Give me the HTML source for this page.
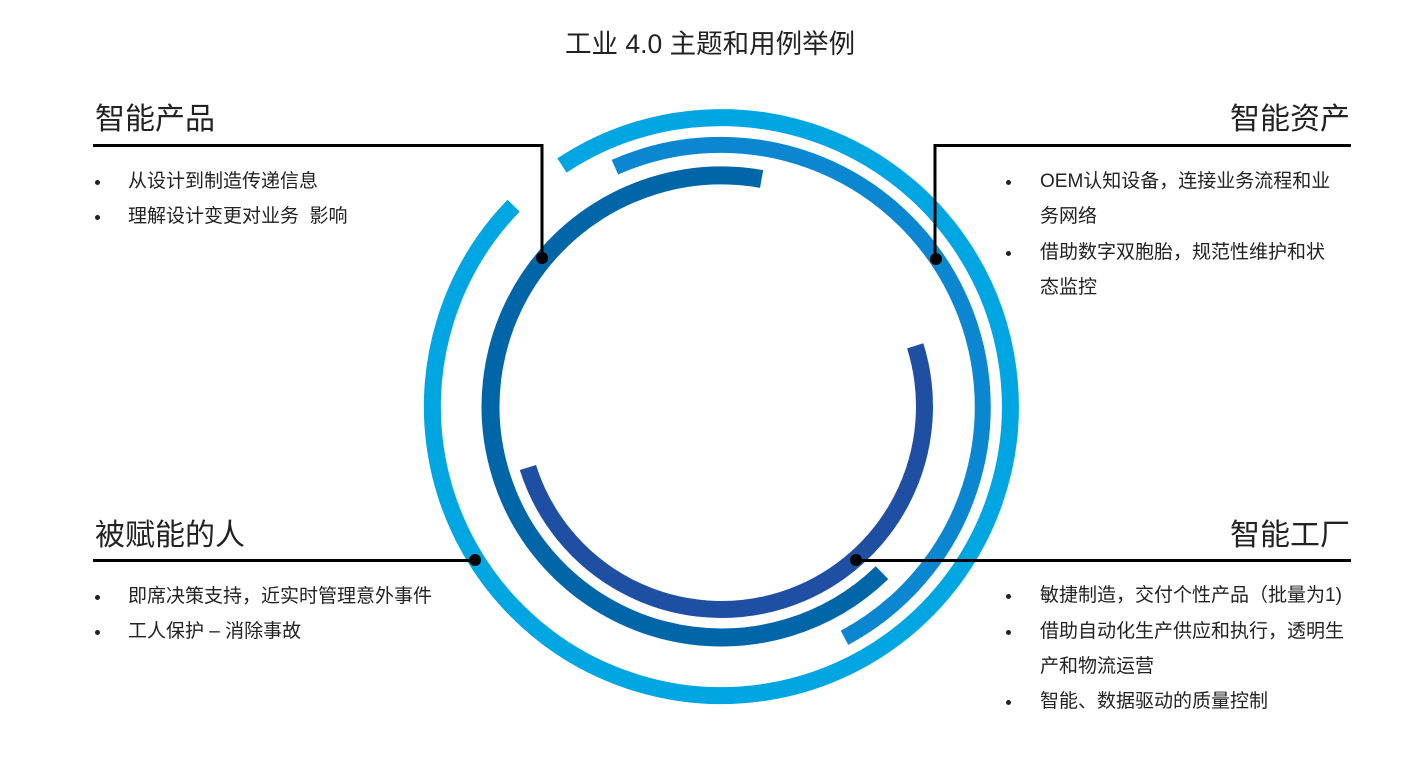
<!DOCTYPE html>
<html><head><meta charset="utf-8"><style>
body{margin:0;width:1421px;height:764px;background:#fff;position:relative;overflow:hidden;font-family:"Liberation Sans","Noto Sans CJK SC",sans-serif;color:#222}
.t{position:absolute;white-space:nowrap}
.h{font-size:30px;line-height:36px}
.r{right:71px;text-align:right}
.b{font-size:19px;line-height:35.5px}
.dot{position:absolute;width:5px;height:5px;border-radius:50%;background:#222}
</style></head><body>
<svg width="1421" height="764" style="position:absolute;left:0;top:0">
<g fill="none" stroke-linecap="butt">
<path d="M562,165.5 A289 289 0 1 1 513.6,205.7" stroke="#00a6e2" stroke-width="17"/>
<path d="M614.9,167.2 A262 262 0 0 1 844.5,637.8" stroke="#0a87d0" stroke-width="16"/>
<path d="M882,572.7 A231 231 0 1 1 761.6,179" stroke="#0066a8" stroke-width="18"/>
<path d="M915.2,345.8 A203 203 0 0 1 782.5,600.1 A203 203 0 0 1 527.9,467.5" stroke="#1f4fa3" stroke-width="17"/>
</g>
<g stroke="#000" stroke-width="3" fill="none">
<polyline points="93,145.5 542,145.5 542,258"/>
<polyline points="1351,145.5 935,145.5 935,259"/>
<line x1="93" y1="560.5" x2="475" y2="560.5"/>
<line x1="856" y1="560.5" x2="1351" y2="560.5"/>
</g>
<g fill="#000">
<circle cx="542" cy="258" r="6"/><circle cx="936" cy="259" r="6"/>
<circle cx="475" cy="560" r="6"/><circle cx="856" cy="560" r="6"/>
</g>
</svg>
<div class="t" style="left:565px;top:27px;font-size:26.5px;line-height:34px">工业 4.0 主题和用例举例</div>

<div class="t h" style="left:95px;top:102px">智能产品</div>
<div class="dot" style="left:95px;top:180px"></div><div class="t b" style="left:128px;top:164px">从设计到制造传递信息</div>
<div class="dot" style="left:95px;top:215px"></div><div class="t b" style="left:128px;top:199px">理解设计变更对业务&nbsp;&nbsp;影响</div>

<div class="t h r" style="top:102px">智能资产</div>
<div class="dot" style="left:1006px;top:180px"></div><div class="t b" style="left:1040px;top:164px">OEM认知设备，连接业务流程和业</div>
<div class="t b" style="left:1040px;top:199px">务网络</div>
<div class="dot" style="left:1006px;top:251px"></div><div class="t b" style="left:1040px;top:235px">借助数字双胞胎，规范性维护和状</div>
<div class="t b" style="left:1040px;top:270px">态监控</div>

<div class="t h" style="left:95px;top:518px">被赋能的人</div>
<div class="dot" style="left:95px;top:595px"></div><div class="t b" style="left:128px;top:579px">即席决策支持，近实时管理意外事件</div>
<div class="dot" style="left:95px;top:630px"></div><div class="t b" style="left:128px;top:614px">工人保护 – 消除事故</div>

<div class="t h r" style="top:518px">智能工厂</div>
<div class="dot" style="left:1006px;top:594px"></div><div class="t b" style="left:1040px;top:578px">敏捷制造，交付个性产品（批量为1)</div>
<div class="dot" style="left:1006px;top:630px"></div><div class="t b" style="left:1040px;top:614px">借助自动化生产供应和执行，透明生</div>
<div class="t b" style="left:1040px;top:649px">产和物流运营</div>
<div class="dot" style="left:1006px;top:700px"></div><div class="t b" style="left:1040px;top:684px">智能、数据驱动的质量控制</div>
</body></html>
